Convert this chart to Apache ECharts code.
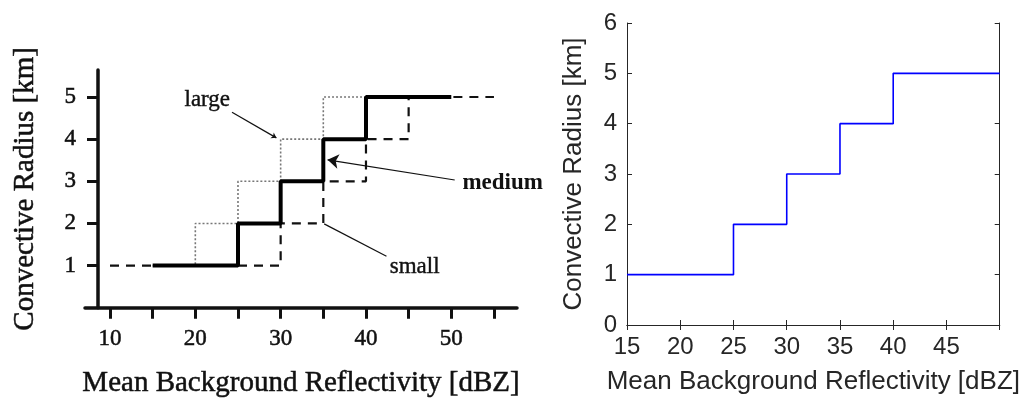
<!DOCTYPE html>
<html>
<head>
<meta charset="utf-8">
<script src="https://cdn.jsdelivr.net/npm/echarts@6/dist/echarts.min.js"></script>
<style>
  html, body { margin: 0; padding: 0; background: #fff; }
  #chart { width: 1023px; height: 403px; }
</style>
</head>
<body>
<div id="chart"></div>
<script>
// left panel: three step curves (scanned figure)
var largeX = [15, 20, 25, 30, 35, 50];
var largeY = [1, 2, 3, 4, 5, 5];
var mediumX = [15, 25, 30, 35, 40, 50];
var mediumY = [1, 2, 3, 4, 5, 5];
var smallX = [10, 30, 35, 40, 45, 55];
var smallY = [1, 2, 3, 4, 5, 5];
var leftTicksX = [10, 15, 20, 25, 30, 35, 40, 45, 50, 55];
var leftLabelsX = [10, 20, 30, 40, 50];
var leftTicksY = [1, 2, 3, 4, 5];

// right panel: the curve re-plotted
var blueX = [15, 25, 30, 35, 40, 50];
var blueY = [1, 2, 3, 4, 5, 5];

// annotations (data coords of left panel)
var noteText = ['large', 'medium', 'small'];
var noteAt = [[21.4, 4.93], [51.3, 2.96], [45.7, 0.97]];
var leaderFrom = [[24.3, 4.64], [50.4, 3.03], [35.1, 1.99]];
var leaderTo = [[29.5, 4.03], [35.5, 3.51], [42.4, 1.22]];

function zip(xs, ys) {
  return xs.map(function (x, i) { return [x, ys[i]]; });
}

var serif = '"Liberation Serif", "DejaVu Serif", serif';
var sans = '"Liberation Sans", Arial, sans-serif';
var ink = '#262626';
// scanned print looks a bit heavier than a plain regular weight
var scan = { color: '#111', textBorderColor: '#111', textBorderWidth: 0.5 };

var chart = echarts.init(document.getElementById('chart'));

var option = {
  animation: false,
  backgroundColor: '#fff',
  grid: [
    { left: 85, right: 506, top: 70, bottom: 95 },
    { left: 627, right: 20, top: 23, bottom: 78 }
  ],
  xAxis: [
    {
      gridIndex: 0, type: 'value', min: 7.07, max: 57.7,
      name: 'Mean Background Reflectivity [dBZ]',
      nameLocation: 'middle', nameGap: 61,
      nameTextStyle: Object.assign({ fontFamily: serif, fontSize: 29 }, scan),
      axisLine: { lineStyle: { color: '#111', width: 3.5 } },
      axisTick: { customValues: leftTicksX, length: 11, lineStyle: { color: '#111', width: 3 } },
      axisLabel: Object.assign({ customValues: leftLabelsX, margin: 20, fontFamily: serif, fontSize: 23 }, scan),
      splitLine: { show: false }
    },
    {
      gridIndex: 1, type: 'value', min: 15, max: 50, interval: 5,
      name: 'Mean Background Reflectivity [dBZ]',
      nameLocation: 'middle', nameGap: 44,
      nameTextStyle: { fontFamily: sans, fontSize: 26, color: ink },
      axisLine: { lineStyle: { color: ink, width: 1 } },
      axisTick: { inside: true, length: 5, lineStyle: { color: ink } },
      axisLabel: { showMaxLabel: false, margin: 10, fontFamily: sans, fontSize: 24, color: ink },
      splitLine: { show: false }
    },
    {
      gridIndex: 1, type: 'value', min: 15, max: 50, interval: 5, position: 'top',
      axisLine: { lineStyle: { color: ink, width: 1 } },
      axisTick: { inside: true, length: 5, lineStyle: { color: ink } },
      axisLabel: { show: false },
      splitLine: { show: false }
    }
  ],
  yAxis: [
    {
      gridIndex: 0, type: 'value', min: 0, max: 5.64, offset: -13,
      name: 'Convective Radius [km]',
      nameLocation: 'middle', nameGap: 58, nameRotate: 90,
      nameTextStyle: Object.assign({ fontFamily: serif, fontSize: 29 }, scan),
      axisLine: { show: true, lineStyle: { color: '#111', width: 3.5 } },
      axisTick: { show: true, customValues: leftTicksY, length: 11, lineStyle: { color: '#111', width: 3 } },
      axisLabel: Object.assign({ customValues: leftTicksY, margin: 22, fontFamily: serif, fontSize: 23 }, scan),
      splitLine: { show: false }
    },
    {
      gridIndex: 1, type: 'value', min: 0, max: 6, interval: 1,
      name: 'Convective Radius [km]',
      nameLocation: 'middle', nameGap: 40, nameRotate: 90,
      nameTextStyle: { fontFamily: sans, fontSize: 26, color: ink },
      axisLine: { show: true, lineStyle: { color: ink, width: 1 } },
      axisTick: { show: true, inside: true, length: 5, lineStyle: { color: ink } },
      axisLabel: { margin: 10, fontFamily: sans, fontSize: 24, color: ink },
      splitLine: { show: false }
    },
    {
      gridIndex: 1, type: 'value', min: 0, max: 6, interval: 1, position: 'right',
      axisLine: { show: true, lineStyle: { color: ink, width: 1 } },
      axisTick: { show: true, inside: true, length: 5, lineStyle: { color: ink } },
      axisLabel: { show: false },
      splitLine: { show: false }
    }
  ],
  series: [
    {
      name: 'large', type: 'line', xAxisIndex: 0, yAxisIndex: 0, step: 'end',
      data: zip(largeX, largeY), showSymbol: false, symbol: 'none',
      lineStyle: { color: '#777', width: 1.6, type: [2, 2] }
    },
    {
      name: 'small', type: 'line', xAxisIndex: 0, yAxisIndex: 0, step: 'end',
      data: zip(smallX, smallY), showSymbol: false, symbol: 'none',
      lineStyle: { color: '#111', width: 2.2, type: [9, 7] }
    },
    {
      name: 'medium', type: 'line', xAxisIndex: 0, yAxisIndex: 0, step: 'end',
      data: zip(mediumX, mediumY), showSymbol: false, symbol: 'none',
      lineStyle: { color: '#000', width: 4 },
      markLine: {
        silent: true, animation: false,
        label: { show: false },
        lineStyle: { color: '#111', width: 1.2, type: 'solid' },
        data: leaderFrom.map(function (p, i) {
          var tip = i === 1 ? 11 : (i === 0 ? 5 : 0);
          return [
            { coord: p, symbol: 'none' },
            { coord: leaderTo[i], symbol: tip ? 'arrow' : 'none', symbolSize: tip }
          ];
        })
      }
    },
    {
      name: 'radius', type: 'line', xAxisIndex: 1, yAxisIndex: 1, step: 'end',
      data: zip(blueX, blueY), showSymbol: false, symbol: 'none',
      lineStyle: { color: '#0000ff', width: 1.6 }
    }
  ]
};

chart.setOption(option);

// annotation texts, placed in data coordinates of the left panel
var texts = noteText.map(function (t, i) {
  var p = chart.convertToPixel({ gridIndex: 0 }, noteAt[i]);
  return {
    type: 'text', x: p[0], y: p[1],
    style: {
      text: t, fill: '#111', stroke: '#111', lineWidth: i === 1 ? 0 : 0.4,
      font: (i === 1 ? 'bold ' : '') + '23px ' + serif,
      align: i === 1 ? 'left' : 'center', verticalAlign: 'middle'
    }
  };
});
chart.setOption({ graphic: texts });
</script>
</body>
</html>
